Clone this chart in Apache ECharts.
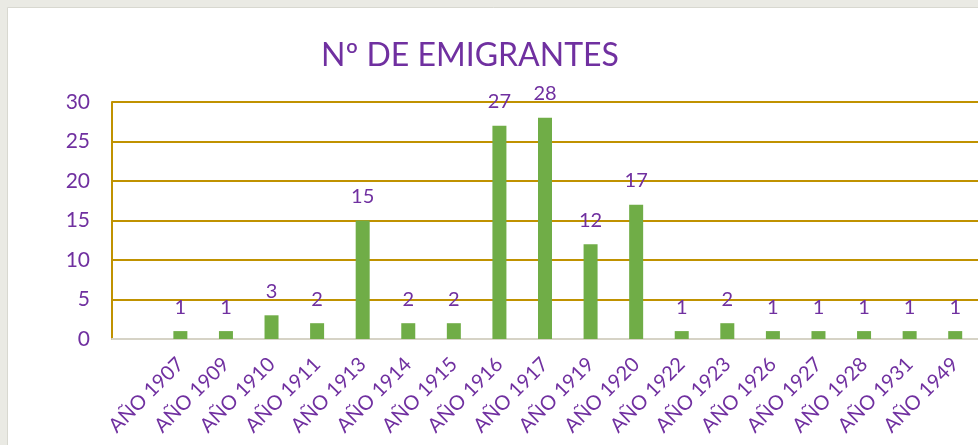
<!DOCTYPE html>
<html><head><meta charset="utf-8">
<script src="https://cdn.jsdelivr.net/npm/echarts@6/dist/echarts.min.js"></script>
<style>html,body{margin:0;padding:0;background:#EAEAE4;}#c{width:978px;height:445px;}</style>
</head><body><div id="c"></div>
<script>
const categories = ['', 'AÑO 1907','AÑO 1909','AÑO 1910','AÑO 1911','AÑO 1913','AÑO 1914','AÑO 1915','AÑO 1916','AÑO 1917','AÑO 1919','AÑO 1920','AÑO 1922','AÑO 1923','AÑO 1926','AÑO 1927','AÑO 1928','AÑO 1931','AÑO 1949'];
const values = [null, 1,1,3,2,15,2,2,27,28,12,17,1,2,1,1,1,1,1];
const yTicks = [0,5,10,15,20,25,30];
const FONT = 'Lato';
const PURPLE = '#7030A0';
const chart = echarts.init(document.getElementById('c'));
chart.setOption({
  backgroundColor: '#EAEAE4',
  animation: false,
  graphic: [{type:'rect', shape:{x:7.5,y:7.5,width:1000,height:500}, style:{fill:'#ffffff', stroke:'#D8D8D0', lineWidth:1}, z:-10}],
  title: {text:'Nº DE EMIGRANTES', left:465, top:35, textAlign:'center',
    textStyle:{color:PURPLE, fontFamily:FONT, fontSize:32, fontWeight:'normal'}},
  grid: {left:112, top:102, height:237, width:867},
  xAxis: {type:'category', data:categories,
    axisLine:{show:true, lineStyle:{color:'#D6D3C6', width:2}},
    axisTick:{show:false},
    axisLabel:{rotate:45, interval:0, color:PURPLE, fontFamily:FONT, fontSize:20, margin:22}},
  yAxis: {type:'value', min:0, max:30, interval:5,
    axisLine:{show:true, lineStyle:{color:'#C09200', width:2}},
    axisTick:{show:false},
    splitLine:{lineStyle:{color:'#C09200', width:2}},
    axisLabel:{color:PURPLE, fontFamily:FONT, fontSize:21, margin:22,
      formatter: v => yTicks.includes(v) ? String(v) : ''}},
  series: [{type:'bar', data:values, barWidth:14,
    itemStyle:{color:'#70AD47'},
    label:{show:true, position:'top', distance:14, color:PURPLE, fontFamily:FONT, fontSize:20}}]
});
</script></body></html>
